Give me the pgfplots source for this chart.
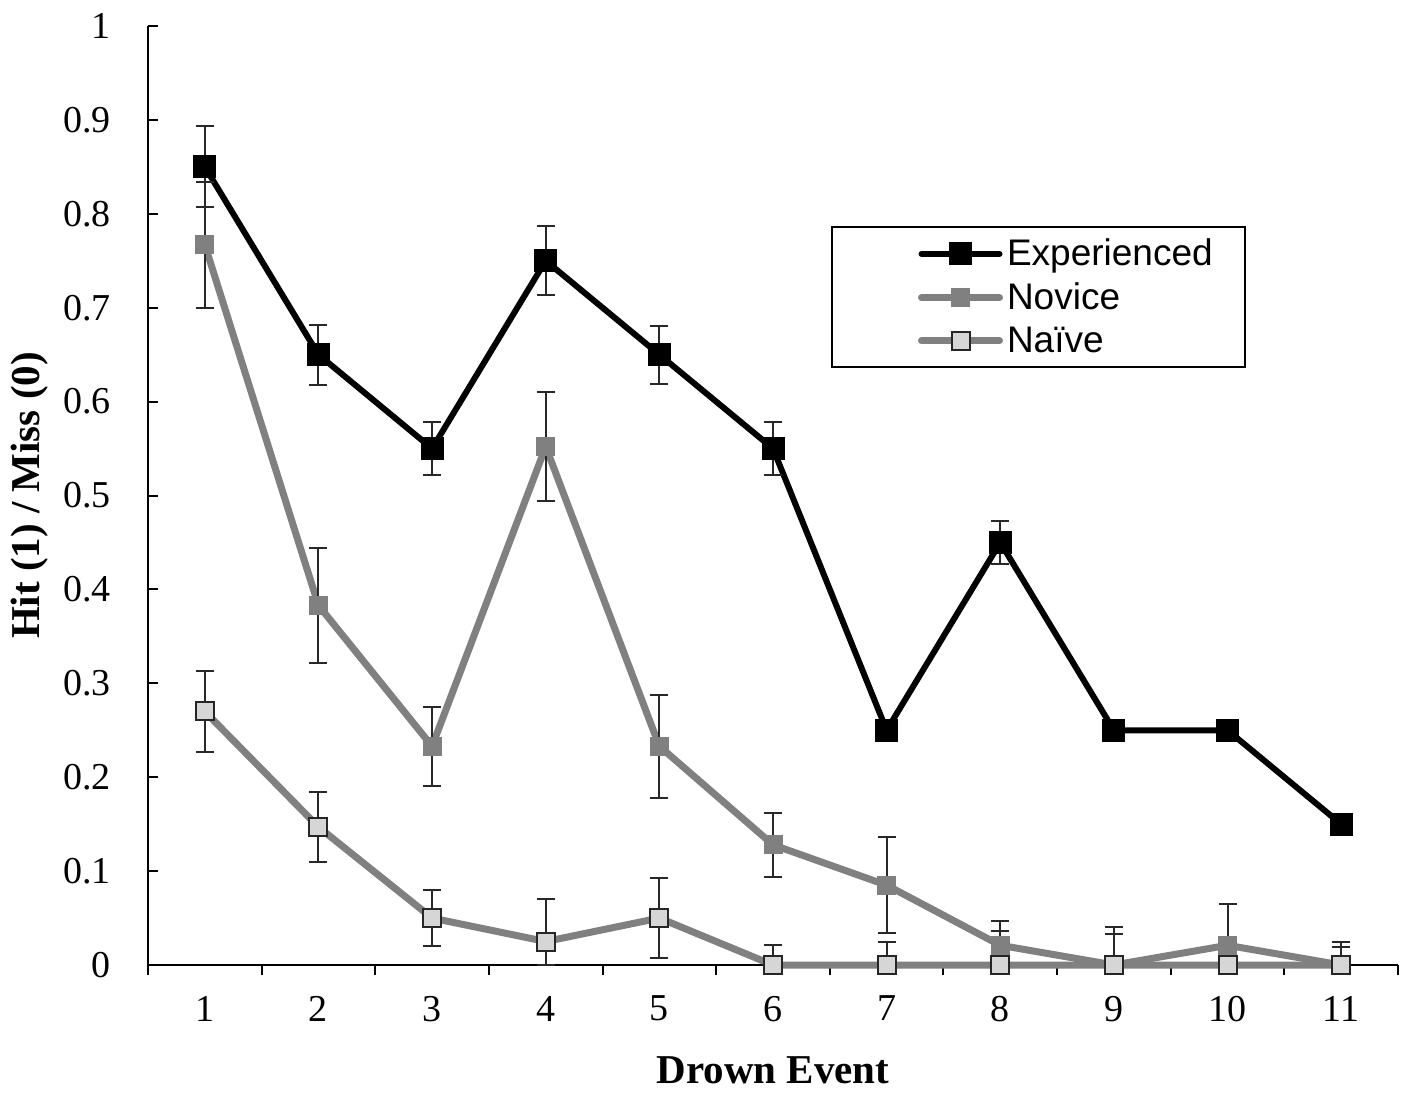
\documentclass[border=0pt]{standalone}
\usepackage{pgfplots}
\pgfplotsset{compat=1.18}
\usepackage{pgfplotstable}
\usepackage{fontspec}
\setmainfont{Liberation Serif}
\newfontfamily\legfont{Liberation Sans}
\definecolor{novgray}{RGB}{128,128,128}
\definecolor{naivefill}{RGB}{214,214,214}
\definecolor{errcol}{RGB}{40,40,40}

% columns: x, value, upper error, lower error (lower bar stops at 0)
\pgfplotstableread{
x y e em
1 0.850 0.043 0.043
2 0.650 0.032 0.032
3 0.550 0.028 0.028
4 0.750 0.037 0.037
5 0.650 0.031 0.031
6 0.550 0.028 0.028
7 0.250 0.008 0.008
8 0.450 0.023 0.023
9 0.250 0.008 0.008
10 0.250 0.008 0.008
11 0.150 0.000 0.000
}\expdata

\pgfplotstableread{
x y e em
1 0.767 0.067 0.067
2 0.383 0.061 0.061
3 0.233 0.042 0.042
4 0.552 0.058 0.058
5 0.233 0.055 0.055
6 0.128 0.034 0.034
7 0.085 0.051 0.051
8 0.021 0.026 0.021
9 0.000 0.041 0.000
10 0.021 0.044 0.021
11 0.000 0.025 0.000
}\novdata

\pgfplotstableread{
x y e em
1 0.270 0.043 0.043
2 0.147 0.037 0.037
3 0.050 0.030 0.030
4 0.025 0.045 0.025
5 0.050 0.043 0.043
6 0.000 0.021 0.000
7 0.000 0.024 0.000
8 0.000 0.036 0.000
9 0.000 0.033 0.000
10 0.000 0.000 0.000
11 0.000 0.019 0.000
}\naidata

\begin{document}
\begin{tikzpicture}
\begin{axis}[
  name=ax,
  scale only axis,
  width=625pt, height=469.5pt,
  xmin=0.5, xmax=11.5, ymin=0, ymax=1,
  axis x line*=bottom, axis y line*=left,
  axis line style={line width=1pt, black},
  xtick={1,2,3,4,5,6,7,8,9,10,11},
  major x tick style={draw=none},
  minor xtick={0.5,1.5,2.5,3.5,4.5,5.5,6.5,7.5,8.5,9.5,10.5,11.5},
  minor tick length=5pt,
  major tick length=5pt,
  xtick align=outside,
  ytick align=inside,
  tick style={line width=1pt, black},
  ytick={0,0.1,0.2,0.3,0.4,0.5,0.6,0.7,0.8,0.9,1},
  yticklabels={0,0.1,0.2,0.3,0.4,0.5,0.6,0.7,0.8,0.9,1},
  /pgf/number format/assume math mode=true,
  tick label style={font=\fontsize{19}{21}\selectfont},
  xticklabel style={yshift=-7pt},
  yticklabel style={xshift=-15pt},
  xlabel={Drown Event},
  ylabel={Hit\ (1) / Miss (0)},
  label style={font=\fontsize{20.5}{23}\selectfont\bfseries},
  xlabel style={at={(axis description cs:0.5,-0.1118)}, anchor=center},
  ylabel style={at={(axis description cs:-0.0944,0.5)}, anchor=center},
  legend style={
    at={(0.5464,0.787)}, anchor=north west,
    draw=black, line width=1pt,
    font=\legfont\fontsize{18.5}{21}\selectfont,
    inner xsep=14pt, inner ysep=4pt,
    row sep=3pt,
    cells={anchor=west},
  },
  legend image code/.code={%
    \path (-29pt,0pt);
    \draw[#1, line cap=round, mark repeat=2, mark phase=2] plot coordinates {(0pt,0pt) (19.5pt,0pt) (39pt,0pt)};
  },
  clip=false,
]
\addplot[black, line width=3pt, mark=square*, mark size=5.5pt,
  mark options={solid, fill=black, draw=black, line width=0.5pt},
  error bars/.cd, y dir=both, y explicit,
  error bar style={errcol, line width=1pt},
  error mark options={rotate=90, mark size=4.5pt, errcol, line width=1pt}]
  table[x=x, y=y, y error plus=e, y error minus=em]{\expdata};
\addlegendentry{Experienced}
\addplot[novgray, line width=3.5pt, mark=square*, mark size=4.5pt,
  mark options={solid, fill=novgray, draw=novgray, line width=0.5pt},
  error bars/.cd, y dir=both, y explicit,
  error bar style={errcol, line width=1pt},
  error mark options={rotate=90, mark size=4.5pt, errcol, line width=1pt}]
  table[x=x, y=y, y error plus=e, y error minus=em]{\novdata};
\addlegendentry{Novice}
\addplot[novgray, line width=3.5pt, mark=square*, mark size=4.5pt,
  mark options={solid, fill=naivefill, draw=black!85, line width=1pt},
  error bars/.cd, y dir=both, y explicit,
  error bar style={errcol, line width=1pt},
  error mark options={rotate=90, mark size=4.5pt, errcol, line width=1pt}]
  table[x=x, y=y, y error plus=e, y error minus=em]{\naidata};
\addlegendentry{Na\"ive}
\end{axis}
\pgfresetboundingbox
\path[use as bounding box] ([shift={(-74pt,-72.5pt)}]ax.south west) rectangle ([shift={(9.5pt,13pt)}]ax.north east);
\end{tikzpicture}
\end{document}
